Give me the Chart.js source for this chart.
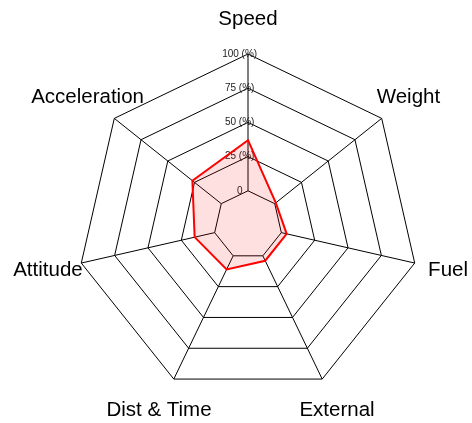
<!DOCTYPE html>
<html>
<head>
<meta charset="utf-8">
<script src="https://cdn.jsdelivr.net/npm/chart.js@4/dist/chart.umd.min.js"></script>
<style>
    html, body { margin: 0; padding: 0; background: #fff; }
    #wrap { width: 472px; height: 423px; }
</style>
</head>
<body>
<div id="wrap"><canvas id="radarChart"></canvas></div>
<script>
// 各轴名称（顺时针，从顶部开始）
const categories = ['Speed', 'Weight', 'Fuel', 'External', 'Dist & Time', 'Attitude', 'Acceleration'];
// 数据值 (%)
const values = [37, 1, 4, 4, 11, 15, 27];
// 刻度
const tickValues = [-25, 0, 25, 50, 75, 100];
const tickLabels = ['', '0', '25 (%)', '50 (%)', '75 (%)', '100 (%)'];

// 角度线只从 0 环画到外环，轴标签放在 1.2 倍半径处
const radarExtras = {
    id: 'radarExtras',
    beforeDatasetsDraw(chart) {
        const scale = chart.scales.r;
        const ctx = chart.ctx;
        const inner = scale.getDistanceFromCenterForValue(0);
        const outer = scale.getDistanceFromCenterForValue(scale.max);
        ctx.save();
        ctx.strokeStyle = '#000';
        ctx.lineWidth = 1;
        for (let i = 0; i < categories.length; i++) {
            const a = scale.getPointPosition(i, inner);
            const b = scale.getPointPosition(i, outer);
            ctx.beginPath();
            ctx.moveTo(a.x, a.y);
            ctx.lineTo(b.x, b.y);
            ctx.stroke();
        }
        ctx.restore();
    },
    afterDraw(chart) {
        const scale = chart.scales.r;
        const ctx = chart.ctx;
        ctx.save();
        ctx.font = '20.5px "Liberation Sans", Arial, sans-serif';
        ctx.fillStyle = '#000';
        ctx.textAlign = 'center';
        ctx.textBaseline = 'middle';
        categories.forEach((label, i) => {
            const p = scale.getPointPosition(i, scale.drawingArea * 1.2);
            ctx.fillText(label, p.x, p.y);
        });
        ctx.restore();
    }
};

const ctx = document.getElementById('radarChart').getContext('2d');
const radarChart = new Chart(ctx, {
    type: 'radar',
    data: {
        labels: categories,
        datasets: [{
            data: values,
            borderColor: '#ff0000',
            backgroundColor: 'rgba(255, 0, 0, 0.12)',
            borderWidth: 2,
            pointRadius: 0,
            tension: 0,
            fill: 'start'
        }]
    },
    options: {
        responsive: true,
        maintainAspectRatio: false,
        animation: false,
        layout: {
            padding: { top: 49, bottom: 22, left: 63, right: 39 }
        },
        plugins: {
            legend: { display: false },
            tooltip: { enabled: false }
        },
        scales: {
            r: {
                min: tickValues[0],
                max: tickValues[tickValues.length - 1],
                afterBuildTicks: function(scale) {
                    scale.ticks = tickValues.map(v => ({ value: v }));
                },
                angleLines: { display: false },
                grid: { color: '#000', lineWidth: 1 },
                pointLabels: { display: false },
                ticks: {
                    showLabelBackdrop: false,
                    backdropPadding: 0,
                    color: '#222',
                    font: { family: '"Liberation Sans", Arial, sans-serif', size: 10 },
                    // 末尾空格让标签略向左偏
                    callback: function(value, index) {
                        return tickLabels[index] ? tickLabels[index] + '      ' : '';
                    }
                }
            }
        }
    },
    plugins: [radarExtras]
});
</script>
</body>
</html>
